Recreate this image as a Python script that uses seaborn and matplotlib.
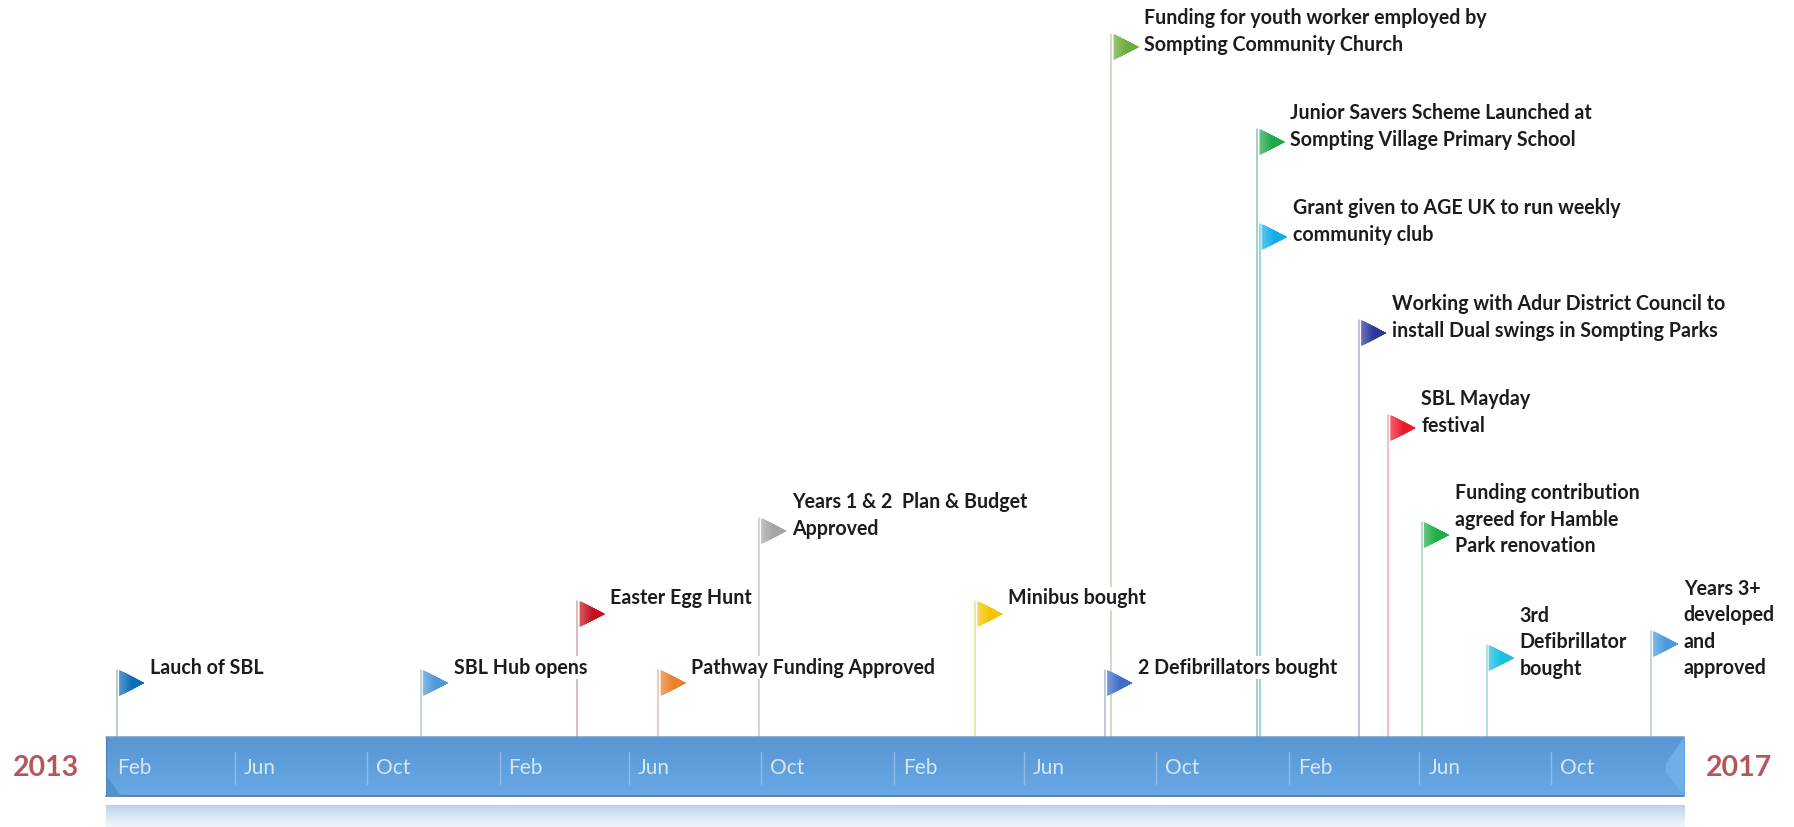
import matplotlib
matplotlib.use("Agg")
import matplotlib.pyplot as plt
import matplotlib.dates as mdates
from matplotlib.colors import to_rgb, LinearSegmentedColormap
from matplotlib.path import Path
import numpy as np
import pandas as pd
import seaborn as sns

# Milestones of the programme, February 2013 to February 2017
events = [
    "Lauch of SBL",
    "SBL Hub opens",
    "Easter Egg Hunt",
    "Pathway Funding Approved",
    "Years 1 & 2  Plan & Budget\nApproved",
    "Minibus bought",
    "2 Defibrillators bought",
    "Funding for youth worker employed by\nSompting Community Church",
    "Junior Savers Scheme Launched at\nSompting Village Primary School",
    "Grant given to AGE UK to run weekly\ncommunity club",
    "Working with Adur District Council to\ninstall Dual swings in Sompting Parks",
    "SBL Mayday\nfestival",
    "Funding contribution\nagreed for Hamble\nPark renovation",
    "3rd\nDefibrillator\nbought",
    "Years 3+\ndeveloped\nand\napproved",
]
dates = [
    "2013-02-12", "2013-11-20", "2014-04-14", "2014-06-28", "2014-09-29",
    "2015-04-17", "2015-08-15", "2015-08-21", "2016-01-03", "2016-01-05",
    "2016-04-06", "2016-05-03", "2016-06-03", "2016-08-02", "2017-01-01",
]
heights = [54, 54, 123, 54, 206, 123, 54, 690, 595, 500, 404, 309, 202, 79, 93]
flag_colours = [
    "#0b6cb8", "#4f97dc", "#c2121f", "#ee7d2c", "#a4a4a4",
    "#f5c400", "#3f6fca", "#6cab3f", "#1fa84a", "#14ace8",
    "#2c379c", "#ee1a2c", "#1fae4a", "#18c0e2", "#4a98e2",
]
pole_colours = [
    "#a5c0cc", "#b5cbd8", "#d9a9a9", "#e3c4ad", "#c9cccf",
    "#ecdf9c", "#aebcd6", "#c3d6ae", "#8cc8bd", "#86cbd6",
    "#adb2d3", "#eeb0b8", "#a9d4b4", "#a7d6df", "#b0cde0",
]
month_ticks = ["Feb", "Jun", "Oct"] * 4
tick_dates = pd.date_range("2013-02-01", periods=12, freq="4MS")
start_year, end_year = "2013", "2017"
band_start, band_end = pd.Timestamp("2013-02-01"), pd.Timestamp("2017-02-01")

FONT = "Lato"
sns.set_theme(style="white")
plt.rcParams["font.family"] = [FONT, "DejaVu Sans"]

PX_PER_DAY = 1.081
LEFT_PX, TOP_BAND_PX = 105, 737
W, H = 1794, 827

fig = plt.figure(figsize=(W / 100, H / 100), dpi=100, facecolor="white")
ax = fig.add_axes([0, 0, 1, 1])
x0 = band_start - pd.Timedelta(days=LEFT_PX / PX_PER_DAY)
x1 = band_start + pd.Timedelta(days=(W - LEFT_PX) / PX_PER_DAY)
ax.axis("off")

df = pd.DataFrame({
    "event": events,
    "date": pd.to_datetime(dates),
    "height": heights,
    "colour": flag_colours,
    "pole": pole_colours,
})


def mix(a, b, t):
    a, b = np.array(to_rgb(a)), np.array(to_rgb(b))
    return tuple(a + (b - a) * t)


# Time band with its soft reflection underneath
bx0, bx1 = mdates.date2num(band_start), mdates.date2num(band_end)
band_cmap = LinearSegmentedColormap.from_list("band", ["#6aa9e6", "#5f9fdc", "#5a96d4"])
ax.imshow(np.linspace(0, 1, 64).reshape(-1, 1), cmap=band_cmap, aspect="auto",
          extent=[bx0 + 1, bx1, -59, 0], origin="lower", zorder=2)
refl_cmap = LinearSegmentedColormap.from_list("refl", ["#f2f6fb", "#dbe7f4", "#bcd2ea"])
ax.imshow(np.linspace(0, 1, 64).reshape(-1, 1), cmap=refl_cmap, aspect="auto",
          extent=[bx0 + 1, bx1, -90, -68], origin="lower", zorder=2)
ax.plot([bx0 + 1, bx1], [0, 0], color="#6f9ccb", lw=1.1, zorder=3)
ax.plot([bx0 + 1, bx1], [-59, -59], color="#4f7fae", lw=1.3, zorder=3)
ax.plot([bx0 + 1, bx0 + 1], [-59, 0], color="#4f7fae", lw=0.8, zorder=3)
# Bevelled band ends
ax.fill([bx0 + 1, bx0 + 15, bx0 + 1], [-59, -59, -38], color="#5490cd", lw=0, zorder=3)
ax.fill([bx1, bx1 - 17, bx1 - 17, bx1], [0, -26, -36, -59], color="#70aee8", lw=0, zorder=3)

# Month separators and labels inside the band
for i, (d, lab) in enumerate(zip(tick_dates, month_ticks)):
    if i > 0:
        ax.plot([d, d], [-47, -15], color="#8fbce8", lw=1.0, zorder=4)
    ax.annotate(lab, xy=(d, -31), xytext=(12 if i == 0 else 9, 0), textcoords="offset pixels",
                ha="left", va="center", fontsize=15, color="#d3e8fa", zorder=5)

# Flag poles
for _, row in df.iterrows():
    ax.plot([row["date"], row["date"]], [0, row["height"] + 13], lw=1.15, zorder=1,
            color=row["pole"])

# Milestone labels sit on a white box that interrupts any pole behind them
for _, row in df.iterrows():
    ax.annotate(row["event"], xy=(row["date"], row["height"]), xytext=(33, 15.5),
                textcoords="offset pixels", ha="left", va="center", fontsize=14.1,
                fontweight="bold", color="#1c1c1c", linespacing=1.38, zorder=3,
                bbox=dict(boxstyle="square,pad=0.08", fc="white", ec="none"))

# Flags: stacked triangles give each one a left-to-right shading
for k, t in enumerate(np.linspace(0, 1, 14)):
    start = 0.08 + 0.46 * t
    half = 0.48 * (1 - start) / 0.92
    marker = Path([(start, half), (1, 0), (start, -half), (start, half)], closed=True)
    shade = {e: mix(mix(c, "white", 0.3), c, t) for e, c in zip(events, flag_colours)}
    sns.scatterplot(data=df, x="date", y="height", hue="event", palette=shade,
                    marker=marker, s=1521, linewidth=0, legend=False, ax=ax, zorder=6 + k)

# Start and end years either side of the band
ax.annotate(start_year, xy=(band_start, -31), xytext=(-59, 0), textcoords="offset pixels",
            ha="center", va="center", fontsize=20.5, fontweight="bold", color="#b5565b")
ax.annotate(end_year, xy=(band_end, -31), xytext=(55, 0), textcoords="offset pixels",
            ha="center", va="center", fontsize=20.5, fontweight="bold", color="#b5565b")

ax.set_xlim(x0, x1)
ax.set_ylim(TOP_BAND_PX - H, TOP_BAND_PX)
fig.savefig("out.png", dpi=100, facecolor="white")
